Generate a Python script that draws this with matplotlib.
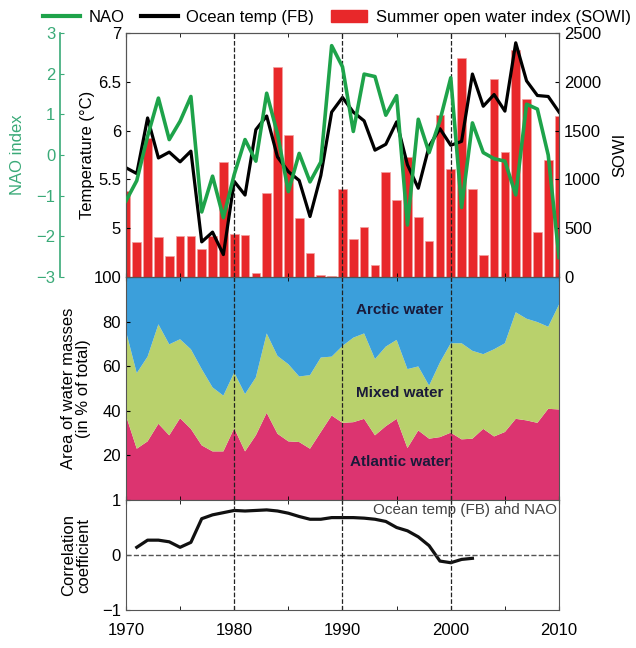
import numpy as np
import matplotlib
matplotlib.use("Agg")
from matplotlib import pyplot as plt
from matplotlib.lines import Line2D
from matplotlib.patches import Patch

plt.rcParams['font.family'] = ['Liberation Sans', 'DejaVu Sans']

years = np.arange(1970, 2011)

# summer open water index (bars)
sowi = [880, 360, 1420, 410, 215, 420, 420, 290, 417, 1180,
        444, 434, 45, 860, 2155, 1452, 605, 250, 18, 15,
        906, 393, 512, 127, 1076, 786, 1229, 616, 366, 1664,
        1104, 2248, 906, 229, 2026, 1281, 2323, 1821, 461, 1196,
        1650]

# ocean temperature (FB), deg C
temp = [5.62, 5.56, 6.13, 5.72, 5.78, 5.68, 5.79, 4.86, 4.96, 4.73,
        5.48, 5.34, 6.01, 6.15, 5.73, 5.58, 5.49, 5.12, 5.54, 6.19,
        6.34, 6.19, 6.10, 5.80, 5.86, 6.09, 5.65, 5.41, 5.84, 6.02,
        5.85, 5.89, 6.58, 6.25, 6.37, 6.20, 6.90, 6.51, 6.36, 6.35,
        6.19]

# NAO index
nao = [-1.13, -0.63, 0.46, 1.40, 0.38, 0.83, 1.44, -1.40, -0.52, -1.54,
       -0.48, 0.38, -0.15, 1.52, 0.52, -0.90, 0.04, -0.66, -0.17, 2.69,
       2.17, 0.58, 1.99, 1.93, 0.98, 1.46, -1.72, 0.88, 0.06, 0.85,
       1.90, -1.29, 0.79, 0.06, -0.09, -0.15, -0.98, 1.25, 1.13, 0.00,
       -2.52]

# water masses, % of total
atlantic = [37.9, 23.0, 26.3, 34.2, 29.0, 36.7, 31.9, 24.5, 21.8, 21.8,
            32.2, 21.8, 29.0, 39.1, 29.7, 26.3, 26.0, 23.0, 30.5, 37.9,
            34.6, 34.9, 36.4, 29.0, 33.1, 36.4, 23.3, 31.2, 27.5, 28.2,
            30.2, 27.2, 27.5, 31.9, 28.5, 30.5, 36.4, 35.7, 34.6, 40.9,
            40.6]
atl_mixed = [75.8, 56.9, 64.3, 78.8, 69.8, 72.1, 67.6, 58.7, 50.5, 46.8,
             57.2, 47.5, 55.0, 74.7, 64.6, 60.9, 55.4, 56.0, 63.9, 64.3,
             69.1, 72.8, 74.7, 63.2, 68.8, 71.8, 58.7, 59.9, 51.3, 61.7,
             70.3, 70.3, 66.9, 65.4, 67.6, 70.3, 84.2, 81.3, 79.8, 77.7,
             87.7]
mixed = [b - a for a, b in zip(atlantic, atl_mixed)]
arctic = [100 - b for b in atl_mixed]

# running correlation ocean temp vs NAO
corr_years = np.arange(1971, 2003)
corr = [0.14, 0.27, 0.27, 0.24, 0.14, 0.23, 0.66, 0.73, 0.77, 0.81,
        0.80, 0.81, 0.82, 0.80, 0.76, 0.70, 0.65, 0.65, 0.68, 0.68,
        0.68, 0.67, 0.65, 0.61, 0.50, 0.44, 0.33, 0.17, -0.11, -0.14,
        -0.08, -0.06]

green = '#1ea34a'
nao_col = '#3aaa78'
grey = '#555555'

fig = plt.figure(figsize=(6.36, 6.48), dpi=100)
L, W = 0.198, 0.681
ax_t = fig.add_axes([L, 0.5725, W, 0.3765])
ax_m = fig.add_axes([L, 0.2284, W, 0.3441])
ax_c = fig.add_axes([L, 0.0586, W, 0.1698])

# ---- top panel
ax_s = ax_t.twinx()
ax_n = ax_t.twinx()
ax_s.set_zorder(0)
ax_t.set_zorder(1)
ax_n.set_zorder(2)
ax_t.patch.set_visible(False)
ax_n.patch.set_visible(False)

ax_s.bar(years, sowi, width=0.8, color='#e8282a', edgecolor='#f2a0a0', linewidth=0.5)
ax_s.set_ylim(0, 2500)
ax_s.set_yticks(np.arange(0, 2501, 500))
ax_s.set_ylabel('SOWI', fontsize=12, labelpad=8)

ax_t.plot(years, temp, color='black', lw=2.3)
ax_t.set_ylim(4.5, 7)
ax_t.set_yticks([5, 5.5, 6, 6.5, 7])
ax_t.set_yticklabels(['5', '5.5', '6', '6.5', '7'])
ax_t.set_ylabel('Temperature (°C)', fontsize=12, labelpad=2)

ax_n.plot(years, nao, color=green, lw=2.6)
ax_n.set_ylim(-3, 3)
ax_n.yaxis.set_ticks_position('left')
ax_n.yaxis.set_label_position('left')
ax_n.spines['left'].set_position(('axes', -0.152))
ax_n.spines['left'].set_visible(True)
ax_n.spines['left'].set_color(nao_col)
ax_n.spines['left'].set_linewidth(1.2)
for s in ['right', 'top', 'bottom']:
    ax_n.spines[s].set_visible(False)
ax_n.set_yticks(np.arange(-3, 4, 1))
ax_n.tick_params(axis='y', colors=nao_col, direction='in', labelsize=12, length=3)
ax_n.set_ylabel('NAO index', color=nao_col, fontsize=12, labelpad=8)

ax_t.tick_params(axis='y', direction='in', labelsize=12, length=3)
ax_s.tick_params(axis='y', direction='in', labelsize=12, length=3)

# ---- middle panel
ax_m.stackplot(years, atlantic, mixed, arctic,
               colors=['#dc3470', '#b9d16c', '#3b9fdb'], linewidth=0)
ax_m.set_ylim(0, 100)
ax_m.set_yticks([20, 40, 60, 80, 100])
ax_m.set_ylabel('Area of water masses\n(in % of total)', fontsize=12, labelpad=2, linespacing=1.0)
ax_m.tick_params(axis='y', direction='in', labelsize=12, length=3)
txt = dict(fontsize=11, fontweight='bold', color='#1a1a3a', ha='center', va='center')
ax_m.text(1995.3, 85, 'Arctic water', **txt)
ax_m.text(1995.3, 48, 'Mixed water', **txt)
ax_m.text(1995.3, 17, 'Atlantic water', **txt)

# ---- correlation panel
ax_c.plot(corr_years, corr, color='#111111', lw=2.3)
ax_c.axhline(0, color=grey, ls='--', lw=1)
ax_c.set_ylim(-1, 1)
ax_c.set_yticks([-1, 0, 1])
ax_c.set_ylabel('Correlation\ncoefficient', fontsize=12, labelpad=8, linespacing=1.0)
ax_c.tick_params(axis='y', direction='in', labelsize=12, length=3)
ax_c.text(0.995, 0.97, 'Ocean temp (FB) and NAO', transform=ax_c.transAxes,
          ha='right', va='top', fontsize=11, color='#444444')

for ax in (ax_t, ax_m, ax_c):
    ax.set_xlim(1970, 2010)
    ax.set_xticks(np.arange(1970, 2011, 10))
    ax.set_xticks(np.arange(1970, 2011, 5), minor=True)
    ax.tick_params(axis='x', which='both', direction='in', top=True, length=3)
    for yr in (1980, 1990, 2000):
        ax.axvline(yr, color='#222222', ls='--', lw=0.9, zorder=5)
ax_t.tick_params(axis='x', labelbottom=False)
ax_m.tick_params(axis='x', labelbottom=False)
ax_c.tick_params(axis='x', labelsize=12, pad=9)

for ax in (ax_t, ax_s, ax_m, ax_c):
    for s in ['left', 'right', 'top', 'bottom']:
        ax.spines[s].set_color(grey)

handles = [Line2D([], [], color=green, lw=3),
           Line2D([], [], color='black', lw=3),
           Patch(color='#e8282a')]
fig.legend(handles, ['NAO', 'Ocean temp (FB)', 'Summer open water index (SOWI)'],
           loc='upper center', bbox_to_anchor=(0.53, 1.008), ncol=3, frameon=False,
           fontsize=12, handlelength=2.2, columnspacing=1.0, handletextpad=0.5)

fig.savefig('out.png', dpi=100)
